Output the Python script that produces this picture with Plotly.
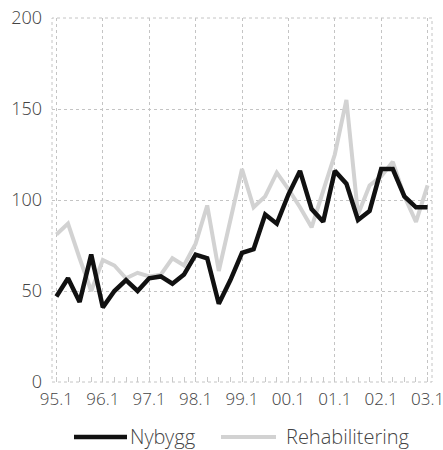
import plotly.graph_objects as go

quarters = ["95.1","95.2","95.3","95.4","96.1","96.2","96.3","96.4",
            "97.1","97.2","97.3","97.4","98.1","98.2","98.3","98.4",
            "99.1","99.2","99.3","99.4","00.1","00.2","00.3","00.4",
            "01.1","01.2","01.3","01.4","02.1","02.2","02.3","02.4","03.1"]
nybygg = [47, 57, 44, 70, 41, 50, 56, 50, 57, 58, 54, 59, 70, 68, 43, 56,
          71, 73, 92, 87, 103, 116, 95, 88, 116, 109, 89, 94, 117, 117, 102, 96, 96]
rehab = [81, 87, 68, 50, 67, 64, 57, 60, 58, 59, 68, 64, 76, 97, 61, 88,
         117, 96, 102, 115, 106, 96, 85, 105, 125, 155, 92, 108, 113, 121, 102, 88, 108]
year_ticks = ["95.1","96.1","97.1","98.1","99.1","00.1","01.1","02.1","03.1"]
y_ticks = [0, 50, 100, 150, 200]

xi = list(range(len(quarters)))
tickpos = [quarters.index(t) for t in year_ticks]

FONT = "Open Sans Light, Open Sans"
TXT = "#444444"
GRID = "#c4c4c4"
BLACK = "#111111"
GRAY = "#d2d2d2"

fig = go.Figure()
fig.add_trace(go.Scatter(x=xi, y=rehab, mode="lines", name="Rehabilitering",
                         line=dict(color=GRAY, width=4), showlegend=False))
fig.add_trace(go.Scatter(x=xi, y=nybygg, mode="lines", name="Nybygg",
                         line=dict(color=BLACK, width=4.5), showlegend=False))

fig.update_layout(
    width=443, height=450,
    margin=dict(l=52, r=11, t=18, b=68, autoexpand=False),
    paper_bgcolor="white", plot_bgcolor="white",
    font=dict(family=FONT, size=17, color=TXT),
    showlegend=False,
)
fig.update_xaxes(
    range=[-0.38, 32.38], tickmode="array", tickvals=tickpos, ticktext=year_ticks,
    showgrid=True, gridcolor=GRID, griddash="dot", gridwidth=1,
    zeroline=False, showline=False, ticks="", ticklabelstandoff=5,
    automargin=False, ticklabeloverflow="allow",
    tickfont=dict(family=FONT, size=17, color=TXT),
    minor=dict(tickmode="linear", dtick=1, tick0=0, ticks="inside", ticklen=5,
               tickcolor="#c8c8c8", tickwidth=1, showgrid=False),
)
fig.update_yaxes(
    range=[0, 200], tickmode="array", tickvals=y_ticks,
    showgrid=True, gridcolor=GRID, griddash="dot", gridwidth=1,
    zeroline=False, showline=False, ticks="", ticklabelstandoff=9,
    automargin=False, ticklabeloverflow="allow",
    tickfont=dict(family=FONT, size=18, color=TXT),
)
# plot border (dotted)
fig.add_shape(type="rect", xref="paper", yref="paper", x0=0, x1=1, y0=0, y1=1,
              line=dict(color=GRID, width=1, dash="dot"), layer="below")

# manual legend
ly = -(437 - 382) / 364
px = lambda v: (v - 52) / 380
fig.add_shape(type="line", xref="paper", yref="paper", x0=px(74), x1=px(127),
              y0=ly, y1=ly, line=dict(color=BLACK, width=4.5))
fig.add_annotation(xref="paper", yref="paper", x=px(128), y=ly, text="Nybygg",
                   showarrow=False, xanchor="left", yanchor="middle",
                   font=dict(family=FONT, size=20, color=TXT))
fig.add_shape(type="line", xref="paper", yref="paper", x0=px(221), x1=px(276),
              y0=ly, y1=ly, line=dict(color=GRAY, width=4))
fig.add_annotation(xref="paper", yref="paper", x=px(284), y=ly, text="Rehabilitering",
                   showarrow=False, xanchor="left", yanchor="middle",
                   font=dict(family=FONT, size=20, color=TXT))

fig.write_html("out.html", post_script="document.body.style.margin='0';",
               config={"displayModeBar": False})
